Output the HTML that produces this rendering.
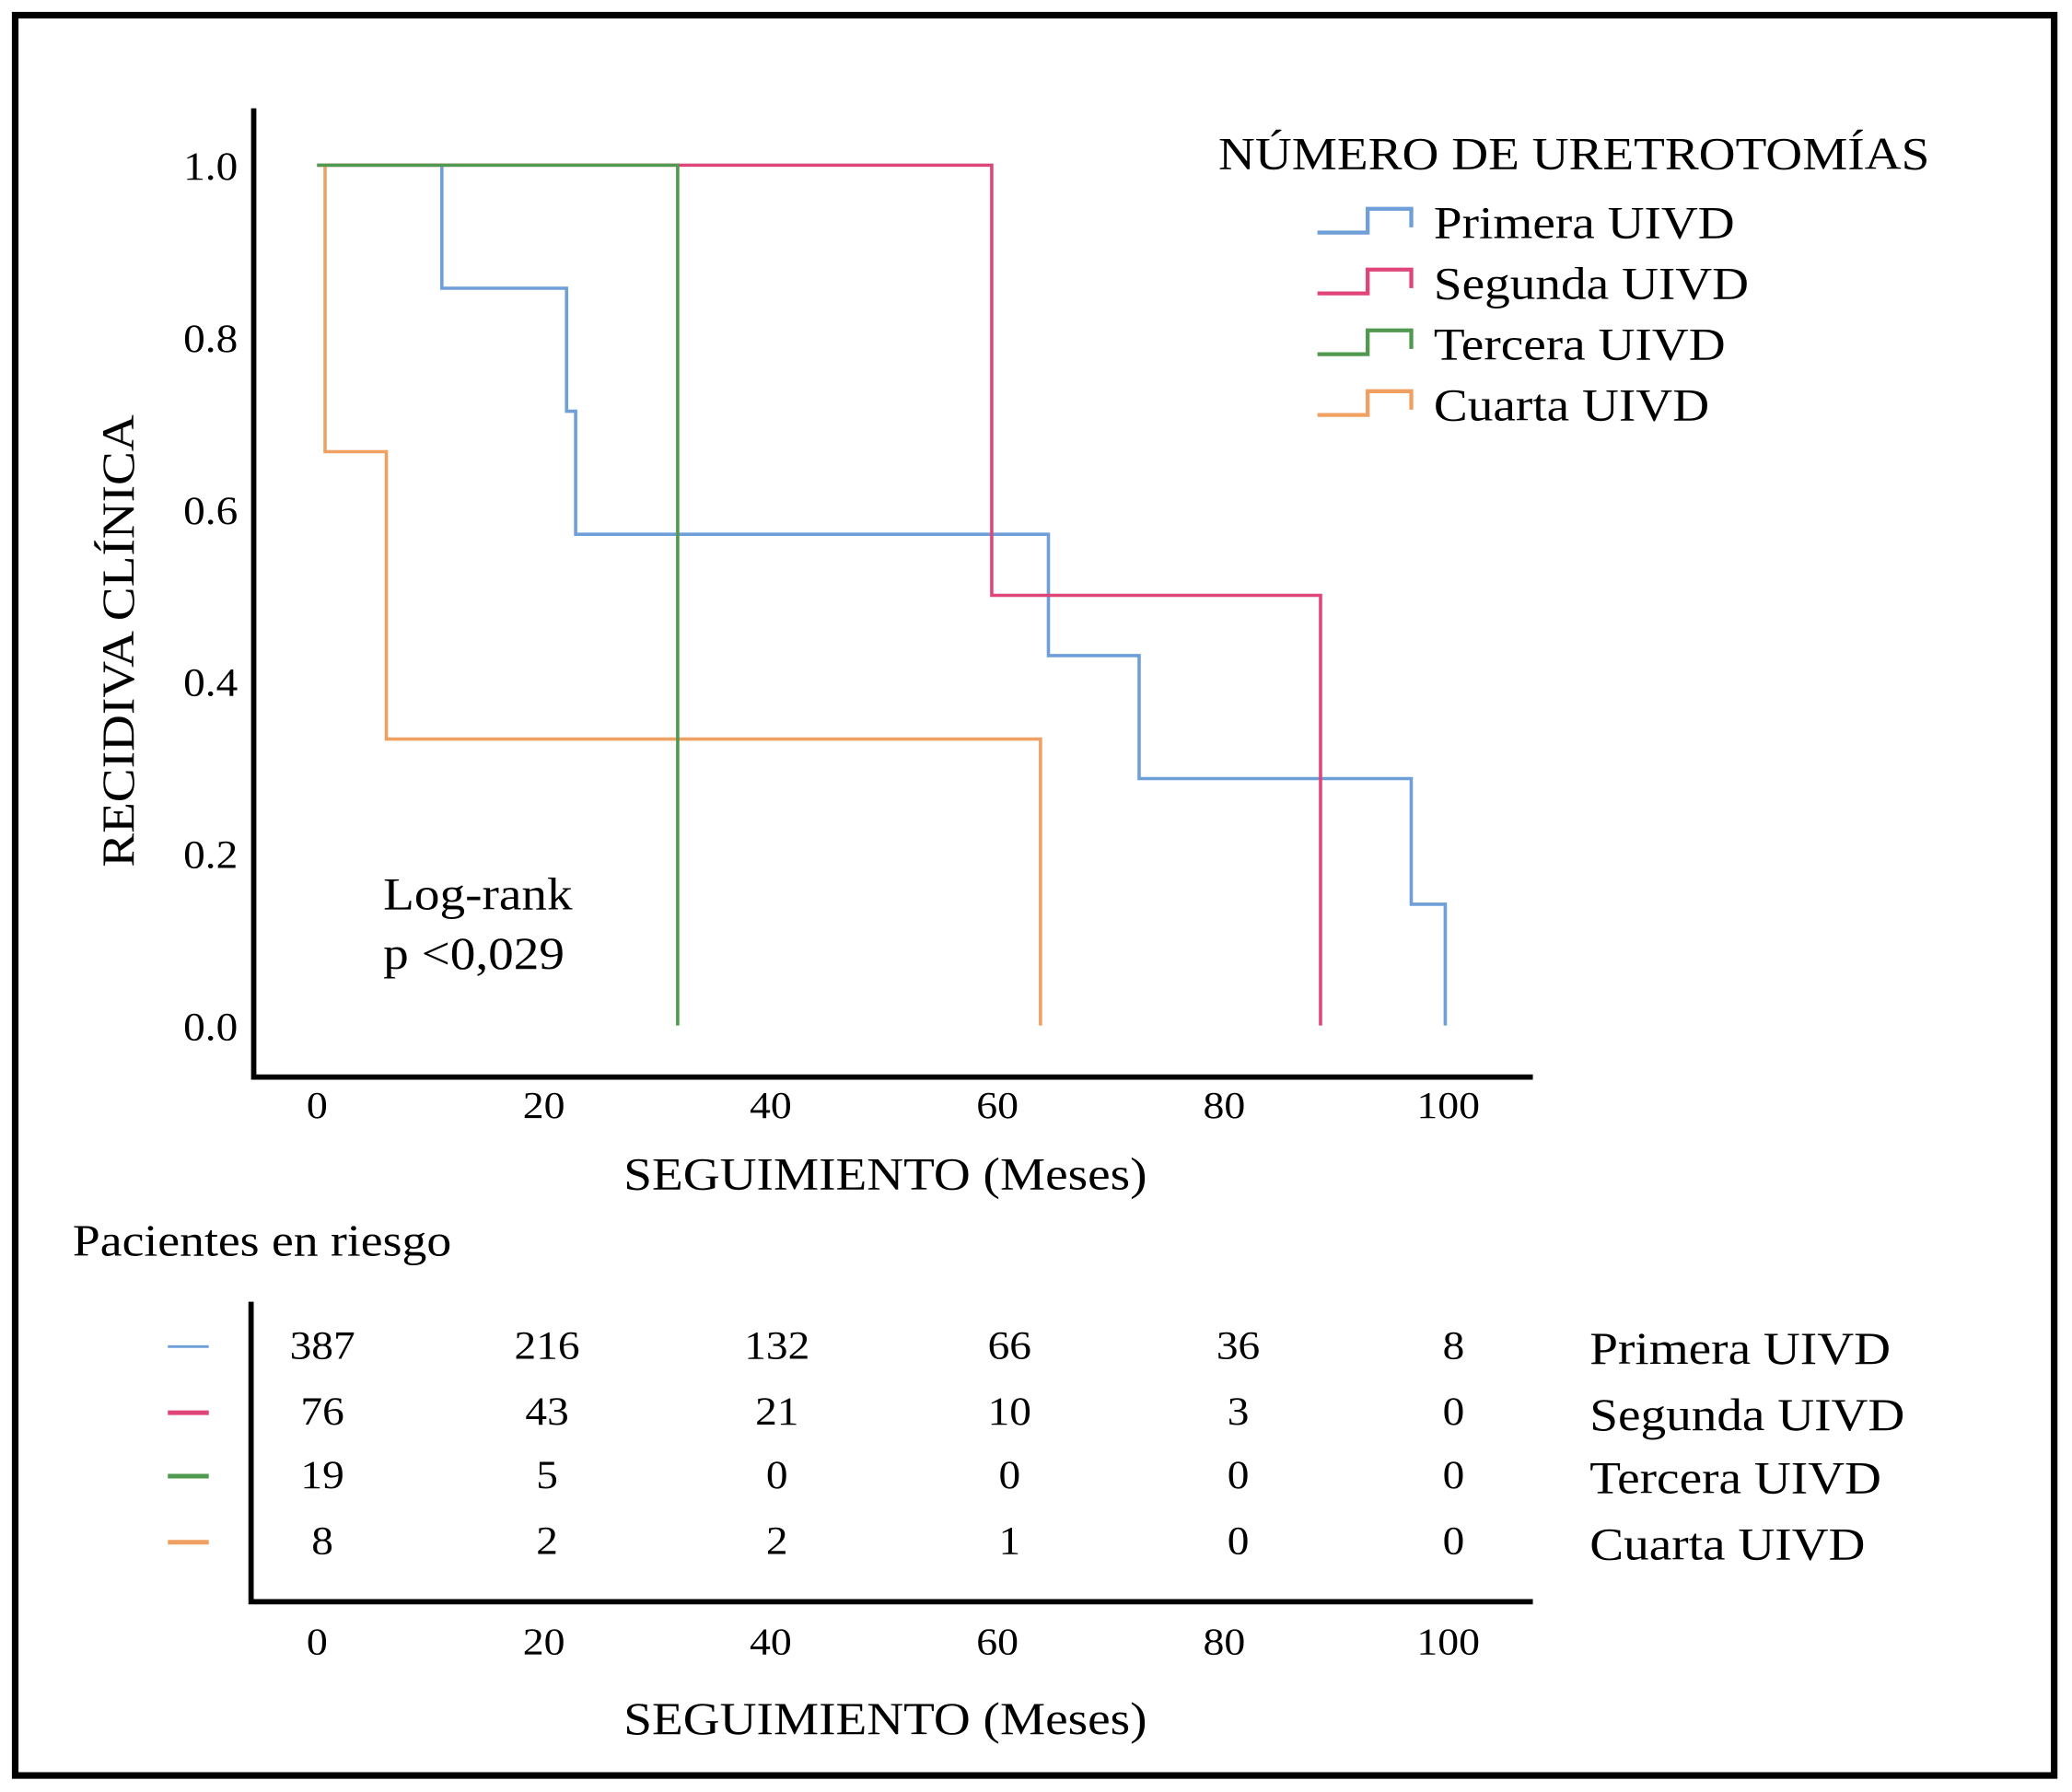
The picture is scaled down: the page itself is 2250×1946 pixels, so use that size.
<!DOCTYPE html>
<html><head><meta charset="utf-8"><style>
html,body{margin:0;padding:0;background:#fff}
svg{display:block}
text{font-family:"Liberation Serif",serif;fill:#000}
</style></head><body>
<svg id="chart" width="2250" height="1946" viewBox="0 0 1568 1356" preserveAspectRatio="none" xmlns="http://www.w3.org/2000/svg">
<rect x="11.5" y="11.5" width="1543" height="1332" fill="none" stroke="#000" stroke-width="5"/>
<g id="main"></g>
<g id="risk"></g>
</svg>
<script>
const xTicks=[0,20,40,60,80,100];
const yTicks=[0,0.2,0.4,0.6,0.8,1.0];
const seriesNames=["Primera UIVD","Segunda UIVD","Tercera UIVD","Cuarta UIVD"];
const seriesColors=["#6f9fd8","#e0457a","#4f9a4f","#f0a060"];
// step curves: times and survival values
const primeraT=[0,11,22,22.8,64.5,72.5,96.5,99.5];
const primeraS=[1.0,0.857,0.714,0.571,0.43,0.287,0.141,0];
const segundaT=[0,59.5,88.5];
const segundaS=[1.0,0.5,0];
const terceraT=[0,31.8];
const terceraS=[1.0,0];
const cuartaT=[0.7,6.1,63.8];
const cuartaS=[1.0,0.667,0.333,0];
const cuartaStart=0;
const riskPrimera=[387,216,132,66,36,8];
const riskSegunda=[76,43,21,10,3,0];
const riskTercera=[19,5,0,0,0,0];
const riskCuarta=[8,2,2,1,0,0];

const NS="http://www.w3.org/2000/svg";
const xS=v=>240+v*8.58;
const yS=v=>776-v*651;
const stretchList=[];
function mk(parent,tag,attrs,txt){const e=document.createElementNS(NS,tag);for(const k in attrs)e.setAttribute(k,attrs[k]);if(txt!==undefined){e.textContent=txt;stretchList.push(e);}parent.appendChild(e);return e;}
const main=document.getElementById('main');
const risk=document.getElementById('risk');

let a=mk(main,'path',{d:'M192,82 V815 H1160',fill:'none',stroke:'#000','stroke-width':4});


yTicks.forEach(v=>{const t=mk(main,'text',{x:180,y:yS(v)+11,'text-anchor':'end','font-size':30},v.toFixed(1));

});
xTicks.forEach(v=>{const t=mk(main,'text',{x:xS(v)-(v===100?2:0),y:846,'text-anchor':'middle','font-size':29},v);

});
let t=mk(main,'text',{x:670,y:900,'text-anchor':'middle','font-size':35},'SEGUIMIENTO (Meses)');


t=mk(main,'text',{x:0,y:0,'text-anchor':'middle','font-size':35,transform:'translate(101,485) rotate(-90)'},'RECIDIVA CLÍNICA');



function stepPath(T,S,start){
  let x0=start!==undefined?start:T[0];
  let d='M'+xS(x0)+','+yS(S[0]);
  let si=0;
  for(let i=(start!==undefined?0:1);i<T.length;i++){
    d+=' H'+xS(T[i]);si++;d+=' V'+yS(S[si]);
  }
  return d;
}
const curves=[[primeraT,primeraS,undefined,0],[segundaT,segundaS,undefined,1],[cuartaT,cuartaS,cuartaStart,3],[terceraT,terceraS,undefined,2]];
curves.forEach(c=>{const p=mk(main,'path',{d:stepPath(c[0],c[1],c[2]),fill:'none',stroke:seriesColors[c[3]],'stroke-width':2.5});

});

t=mk(main,'text',{x:922,y:128,'font-size':35},'NÚMERO DE URETROTOMÍAS');


seriesNames.forEach((n,i)=>{const cy=168+i*46;
const p=mk(main,'path',{d:`M997,${cy+8} H1035 V${cy-10} H1068 V${cy+4}`,fill:'none',stroke:seriesColors[i],'stroke-width':3});


const tt=mk(main,'text',{x:1085,y:cy+12,'font-size':35},n);

});

t=mk(main,'text',{x:290,y:688,'font-size':35},'Log-rank');


t=mk(main,'text',{x:290,y:733,'font-size':35},'p <0,029');



t=mk(risk,'text',{x:55,y:950,'font-size':34},'Pacientes en riesgo');


a=mk(risk,'path',{d:'M190,985 V1212 H1160',fill:'none',stroke:'#000','stroke-width':4});


const rows=[riskPrimera,riskSegunda,riskTercera,riskCuarta];
const rowY=[1028,1078,1126,1176];
const colX=[244,414,588,764,937,1100];
rows.forEach((r,i)=>{
  const l=mk(risk,'line',{x1:127,x2:158,y1:rowY[i]-9,y2:rowY[i]-9,stroke:seriesColors[i],'stroke-width':i==0?2:3.5});
  
  
  r.forEach((v,j)=>{const tt=mk(risk,'text',{x:colX[j],y:rowY[i],'text-anchor':'middle','font-size':30},v);
  
  });
  const lb=mk(risk,'text',{x:1203,y:rowY[i]+4,'font-size':35},seriesNames[i]);
  
  
});
xTicks.forEach((v,j)=>{const tt=mk(risk,'text',{x:xS(v)-(v===100?2:0),y:1252,'text-anchor':'middle','font-size':29},v);

});
t=mk(risk,'text',{x:670,y:1312,'text-anchor':'middle','font-size':35},'SEGUIMIENTO (Meses)');



// horizontal stretch to match reference typeface width
stretchList.forEach(e=>{
  const w=e.getComputedTextLength();
  if(w>0){e.setAttribute('textLength',(w*1.1).toFixed(1));e.setAttribute('lengthAdjust','spacingAndGlyphs');}
});
</script>
</body></html>
